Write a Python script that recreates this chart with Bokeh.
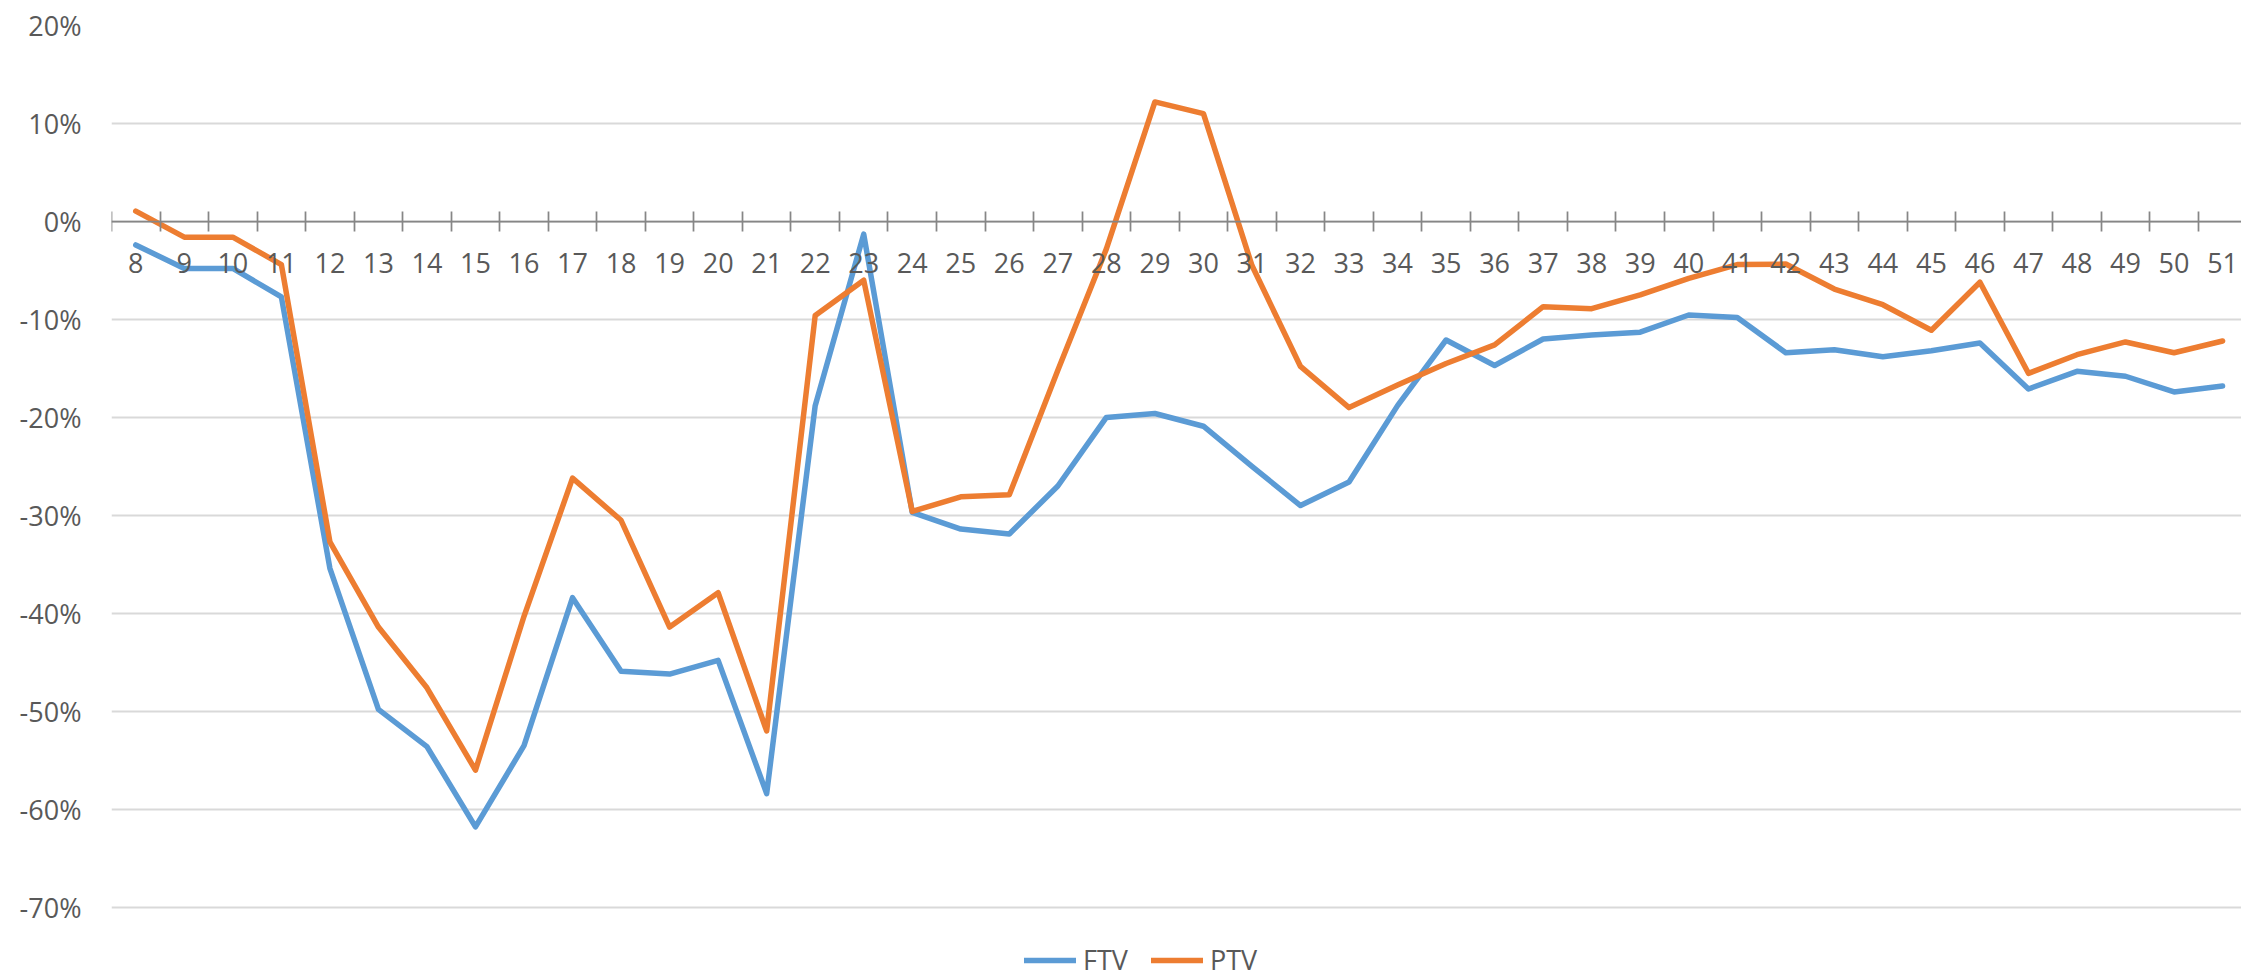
from bokeh.plotting import figure
from bokeh.models import (LinearAxis, FixedTicker, PrintfTickFormatter, Range1d,
                          ColumnDataSource, Legend, LegendItem)
from bokeh.embed import file_html
from bokeh.resources import INLINE

# ---------------- data ----------------
categories = [8, 9, 10, 11, 12, 13, 14, 15, 16, 17, 18, 19, 20, 21, 22, 23,
              24, 25, 26, 27, 28, 29, 30, 31, 32, 33, 34, 35, 36, 37, 38, 39,
              40, 41, 42, 43, 44, 45, 46, 47, 48, 49, 50, 51]

ftv = [-2.4, -4.8, -4.8, -7.7, -35.4, -49.8, -53.6, -61.8, -53.5, -38.4,
       -45.9, -46.2, -44.8, -58.4, -18.8, -1.3, -29.7, -31.4, -31.9, -27.0,
       -20.0, -19.6, -20.9, -25.0, -29.0, -26.6, -18.8, -12.1, -14.7, -12.0,
       -11.6, -11.3, -9.55, -9.8, -13.4, -13.1, -13.8, -13.2, -12.4, -17.1,
       -15.3, -15.8, -17.4, -16.8]

ptv = [1.05, -1.6, -1.6, -4.4, -32.7, -41.4, -47.6, -56.0, -40.3, -26.2,
       -30.5, -41.4, -37.9, -52.0, -9.6, -6.0, -29.6, -28.1, -27.9, -15.2,
       -2.8, 12.2, 11.0, -4.5, -14.8, -19.0, -16.7, -14.5, -12.6, -8.7,
       -8.9, -7.5, -5.8, -4.4, -4.35, -6.9, -8.5, -11.1, -6.2, -15.5,
       -13.6, -12.3, -13.4, -12.2]

y_ticks = [-70, -60, -50, -40, -30, -20, -10, 0, 10, 20]
series_names = ["FTV", "PTV"]

# ---------------- style ----------------
FONT = "Open Sans"
FONT_SIZE = "27px"
LABEL_COLOR = "#595959"
AXIS_COLOR = "#868686"
GRID_COLOR = "#d9d9d9"
BLUE = "#5B9BD5"
ORANGE = "#ED7D31"

# frame extends to the bottom of the canvas so that the legend (drawn inside
# the frame) is not clipped; the -70% gridline stays where the reference has it
p = figure(width=2241, height=978, output_backend="svg", toolbar_location=None,
           x_range=Range1d(categories[0] - 0.5, 51.39),
           y_range=Range1d(-77.27, y_ticks[-1]),
           x_axis_location=None, y_axis_location="left",
           min_border_left=111, min_border_right=0,
           min_border_top=25, min_border_bottom=0)
p.outline_line_color = None
p.background_fill_color = "white"
p.border_fill_color = "white"
for g in p.xgrid:
    g.visible = False

# y axis
yax = p.yaxis[0]
yax.ticker = FixedTicker(ticks=y_ticks)
yax.formatter = PrintfTickFormatter(format="%d%%")
yax.axis_line_color = None
yax.major_tick_line_color = None
yax.minor_tick_line_color = None
yax.major_tick_in = 0
yax.major_tick_out = 0
yax.major_label_standoff = 30
yax.major_label_text_font = FONT
yax.major_label_text_font_size = FONT_SIZE
yax.major_label_text_color = LABEL_COLOR

p.ygrid.ticker = FixedTicker(ticks=y_ticks)
p.ygrid.grid_line_color = GRID_COLOR
p.ygrid.grid_line_width = 2

# x axis crossing at 0: tick marks between categories
tick_pos = [c - 0.5 for c in categories] + [categories[-1] + 0.5]
tick_axis = LinearAxis(fixed_location=0, ticker=FixedTicker(ticks=tick_pos),
                       formatter=PrintfTickFormatter(format=""),
                       axis_line_color=AXIS_COLOR, axis_line_width=1.75,
                       major_tick_line_color=AXIS_COLOR, major_tick_line_width=1.75,
                       major_tick_in=10, major_tick_out=10,
                       minor_tick_line_color=None, major_label_standoff=0)
p.add_layout(tick_axis, "below")

# x labels
label_axis = LinearAxis(fixed_location=0, ticker=FixedTicker(ticks=categories),
                        axis_line_color=None, major_tick_line_color=None,
                        minor_tick_line_color=None, major_tick_in=0, major_tick_out=0,
                        major_label_standoff=32, major_label_text_font=FONT,
                        major_label_text_font_size=FONT_SIZE,
                        major_label_text_color=LABEL_COLOR)
p.add_layout(label_axis, "below")

# lines
src = ColumnDataSource(dict(x=categories, ftv=ftv, ptv=ptv))
r1 = p.line("x", "ftv", source=src, line_color=BLUE, line_width=5.5,
            line_join="round", line_cap="round")
r2 = p.line("x", "ptv", source=src, line_color=ORANGE, line_width=5.5,
            line_join="round", line_cap="round")

legend = Legend(items=[LegendItem(label=series_names[0], renderers=[r1]),
                       LegendItem(label=series_names[1], renderers=[r2])],
                orientation="horizontal", location=(913, 0),
                glyph_width=52, glyph_height=20, label_standoff=7, spacing=23,
                padding=0, margin=0, border_line_color=None,
                background_fill_alpha=0,
                label_text_font=FONT, label_text_font_size=FONT_SIZE,
                label_text_color=LABEL_COLOR)
p.add_layout(legend, "center")

open("out.html", "w").write(file_html(p, INLINE))
